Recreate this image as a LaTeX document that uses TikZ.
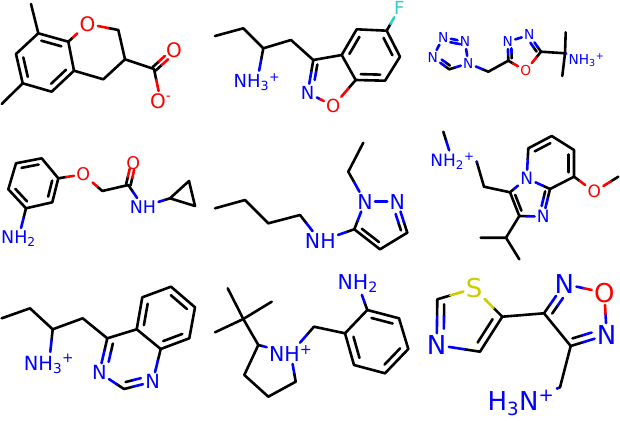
\documentclass[tikz,border=0pt]{standalone}
\usepackage{fontspec}
\setmainfont{DejaVu Sans}
\usetikzlibrary{calc}
\definecolor{atomN}{RGB}{0,0,255}
\definecolor{atomO}{RGB}{255,0,0}
\definecolor{atomF}{RGB}{51,204,204}
\definecolor{atomS}{RGB}{204,204,0}
\tikzset{
	bond/.style		= {line width=2.6pt, line cap=round, line join=round},
	atom/.style		= {inner sep=2.2pt},
	nitro/.style	= {atom, text=atomN},
	oxy/.style		= {atom, text=atomO},
	fluor/.style	= {atom, text=atomF},
	sulf/.style		= {atom, text=atomS},
	molsize/.style	= {every node/.append style={font=\fontsize{#1}{#1}\selectfont}}
}
% bond in two colours, split half way along its visible part
\newcommand{\hbond}[4][black]{
	\path (#2) -- coordinate[midway] (mid) (#3);
	\draw [bond, #1] (#2) -- (mid);
	\draw [bond, #4] (mid) -- (#3);
}
% inner line of a ring double bond
\newcommand{\inbond}[3]{
	\coordinate (pa) at ($(#1)!.24!(#3)$);
	\coordinate (pb) at ($(#2)!.24!(#3)$);
	\draw [bond] ($(pa)!.06!(pb)$) -- ($(pb)!.06!(pa)$);
}
% same, two colours; #5 and #6 cut the ends
\newcommand{\ihbond}[7][black]{
	\coordinate (pa) at ($(#2)!.24!(#5)$);
	\coordinate (pb) at ($(#3)!.24!(#5)$);
	\coordinate (qa) at ($(pa)!#6!(pb)$);
	\coordinate (qb) at ($(pb)!#7!(pa)$);
	\coordinate (mid) at ($(qa)!.5!(qb)$);
	\draw [bond, #1] (qa) -- (mid);
	\draw [bond, #4] (mid) -- (qb);
}
% two lines side by side, for C=O
\newcommand{\cobond}[4]{
	\foreach \ang/\gna in {90/-90,-90/90} {
		\coordinate (pa) at ($(#1)!2.3pt!\ang:(#2)$);
		\coordinate (pb) at ($(#2)!2.3pt!\gna:(#1)$);
		\coordinate (qb) at ($(pa)!#4!(pb)$);
		\coordinate (mid) at ($(pa)!.5!(qb)$);
		\draw [bond] (pa) -- (mid);
		\draw [bond, #3] (mid) -- (qb);
	}
}
\begin{document}
\begin{tikzpicture}[x=1pt, y=-1pt]
	\useasboundingbox (0,0) rectangle (620,420);

	\begin{scope}[molsize=20]
		\coordinate (a1) at (31,4);
		\coordinate (a2) at (38.3,33.3);
		\coordinate (a3) at (68.3,41.7);
		\node [oxy] (a4) at (87.6,24) {O};
		\coordinate (a5) at (118.3,30);
		\coordinate (a6) at (125,59.3);
		\coordinate (a7) at (103.3,79.3);
		\coordinate (a8) at (74,70.7);
		\coordinate (a9) at (51.7,91.7);
		\coordinate (a10) at (22.7,83.3);
		\coordinate (a11) at (1.7,104);
		\coordinate (a12) at (16,54);
		\coordinate (a13) at (154,69);
		\node [oxy] (a14) at (174,50.7) {O};
		\node [oxy] (a15) at (160.7,101) {O\textsuperscript{-}};
		\coordinate (ra) at (45.2,62.5);
		\draw [bond] (a1) -- (a2) -- (a3);
		\draw [bond] (a2) -- (a12) -- (a10) -- (a11);
		\draw [bond] (a10) -- (a9) -- (a8) -- (a3);
		\draw [bond] (a8) -- (a7) -- (a6) -- (a5);
		\draw [bond] (a6) -- (a13);
		\hbond{a3}{a4}{atomO}
		\hbond{a5}{a4}{atomO}
		\hbond{a13}{a15}{atomO}
		\cobond{a13}{a14}{atomO}{.62}
		\inbond{a2}{a3}{ra}
		\inbond{a8}{a9}{ra}
		\inbond{a10}{a12}{ra}
	\end{scope}

	\begin{scope}[molsize=18]
		\coordinate (b1) at (215,36);
		\coordinate (b2) at (243.3,28.3);
		\coordinate (b3) at (263.3,48.3);
		\coordinate (b4) at (291,40);
		\coordinate (b5) at (313.3,60);
		\coordinate (b6) at (341.7,55);
		\coordinate (b7) at (356.7,29.3);
		\coordinate (b8) at (386.7,30.7);
		\node [fluor] (b9) at (399.3,8.3) {F};
		\coordinate (b10) at (400,56.7);
		\coordinate (b11) at (385,80.7);
		\coordinate (b12) at (355.7,80);
		\node [oxy] (b13) at (333.3,106) {O};
		\node [nitro] (b14) at (307.7,92.7) {N};
		\node [nitro] (b15) at (257,82) {NH\textsubscript{3}\textsuperscript{+}};
		\coordinate (rb) at (370.9,55.5);
		\coordinate (rbb) at (330,78.7);
		\draw [bond] (b1) -- (b2) -- (b3) -- (b4) -- (b5) -- (b6) -- (b7) -- (b8) -- (b10) -- (b11) -- (b12) -- (b6);
		\hbond{b3}{b15}{atomN}
		\hbond{b8}{b9}{atomF}
		\hbond{b12}{b13}{atomO}
		\hbond[atomN]{b14}{b13}{atomO}
		\hbond{b5}{b14}{atomN}
		\ihbond{b5}{b14}{atomN}{rbb}{0}{.38}
		\inbond{b6}{b7}{rb}
		\inbond{b8}{b10}{rb}
		\inbond{b11}{b12}{rb}
	\end{scope}

	\begin{scope}[molsize=13.7, every node/.append style={inner sep=1pt}]
		\node [nitro] (c1) at (468.3,63.3) {N};
		\coordinate (c2) at (449.3,69.3);
		\node [nitro] (c3) at (432.7,57.3) {N};
		\node [nitro] (c4) at (443.3,37.3) {N};
		\node [nitro] (c5) at (465,41.7) {N};
		\coordinate (c6) at (488.3,71.7);
		\coordinate (c7) at (508.3,60.7);
		\node [nitro] (c8) at (507.7,41.7) {N};
		\node [nitro] (c9) at (529.3,35) {N};
		\coordinate (c10) at (541,51.7);
		\node [oxy] (c11) at (525.7,70.7) {O};
		\coordinate (c12) at (565,53.3);
		\coordinate (c13) at (565.7,32.3);
		\coordinate (c14) at (562.3,76);
		\node [nitro] (c15) at (586.5,60) {NH\textsubscript{3}\textsuperscript{+}};
		\coordinate (rc) at (451.7,53.5);
		\coordinate (rcc) at (522.6,51.3);
		\draw [bond] (c6) -- (c7);
		\draw [bond] (c10) -- (c12) -- (c13);
		\draw [bond] (c12) -- (c14);
		\hbond{c6}{c1}{atomN}
		\hbond{c2}{c1}{atomN}
		\hbond{c2}{c3}{atomN}
		\ihbond{c2}{c3}{atomN}{rc}{0}{.35}
		\draw [bond, atomN] (c3) -- (c4);
		\draw [bond, atomN] (c4) -- (c5);
		\ihbond[atomN]{c4}{c5}{atomN}{rc}{.3}{.1}
		\draw [bond, atomN] (c5) -- (c1);
		\hbond{c7}{c8}{atomN}
		\ihbond{c7}{c8}{atomN}{rcc}{0}{.3}
		\draw [bond, atomN] (c8) -- (c9);
		\hbond{c10}{c9}{atomN}
		\ihbond{c10}{c9}{atomN}{rcc}{0}{.3}
		\hbond{c7}{c11}{atomO}
		\hbond{c10}{c11}{atomO}
		\hbond{c12}{c15}{atomN}
	\end{scope}

	\begin{scope}[molsize=17.5]
		\coordinate (d1) at (58.3,178.3);
		\coordinate (d2) at (41.7,158.3);
		\coordinate (d3) at (16,163.3);
		\coordinate (d4) at (8.3,189.3);
		\coordinate (d5) at (26,208.3);
		\coordinate (d6) at (52.3,202.3);
		\node [nitro] (d7) at (18.5,238.3) {NH\textsubscript{2}};
		\node [oxy] (d8) at (83.3,174.3) {O};
		\coordinate (d9) at (102.3,191);
		\coordinate (d10) at (128.3,185);
		\node [oxy] (d11) at (133.3,163.3) {O};
		\node [nitro] (d12) at (143,206.7) {NH};
		\coordinate (d13) at (170,198.3);
		\coordinate (d14) at (189,181);
		\coordinate (d15) at (195,206);
		\coordinate (rd) at (33.8,183.3);
		\draw [bond] (d1) -- (d2) -- (d3) -- (d4) -- (d5) -- (d6) -- (d1);
		\draw [bond] (d9) -- (d10);
		\draw [bond] (d13) -- (d14) -- (d15) -- (d13);
		\hbond{d5}{d7}{atomN}
		\hbond{d1}{d8}{atomO}
		\hbond{d9}{d8}{atomO}
		\hbond{d10}{d12}{atomN}
		\hbond{d13}{d12}{atomN}
		\cobond{d10}{d11}{atomO}{.72}
		\inbond{d1}{d6}{rd}
		\inbond{d2}{d3}{rd}
		\inbond{d4}{d5}{rd}
	\end{scope}

	\begin{scope}[molsize=20.5]
		\coordinate (e1) at (215,208.3);
		\coordinate (e2) at (245,200);
		\coordinate (e3) at (268.3,223.3);
		\coordinate (e4) at (300,215);
		\node [nitro] (e5) at (320.3,241) {NH};
		\coordinate (e6) at (354.3,229.3);
		\node [nitro] (e7) at (365,201.7) {N};
		\node [nitro] (e8) at (397.3,201.7) {N};
		\coordinate (e9) at (407.3,232.7);
		\coordinate (e10) at (380,249.3);
		\coordinate (e11) at (348.3,171.7);
		\coordinate (e12) at (363.3,142.7);
		\coordinate (re) at (380.7,223.1);
		\draw [bond] (e1) -- (e2) -- (e3) -- (e4);
		\draw [bond] (e9) -- (e10) -- (e6);
		\draw [bond] (e12) -- (e11);
		\hbond{e4}{e5}{atomN}
		\hbond{e6}{e5}{atomN}
		\hbond{e6}{e7}{atomN}
		\hbond{e11}{e7}{atomN}
		\draw [bond, atomN] (e7) -- (e8);
		\hbond{e9}{e8}{atomN}
		\ihbond{e9}{e8}{atomN}{re}{0}{.3}
		\inbond{e6}{e10}{re}
	\end{scope}

	\begin{scope}[molsize=17]
		\coordinate (f1) at (443.3,131.7);
		\node [nitro] (f2) at (452.5,161) {NH\textsubscript{2}\textsuperscript{+}};
		\coordinate (f3) at (476.7,161.7);
		\coordinate (f4) at (484,186.7);
		\coordinate (f5) at (510,192.3);
		\node [nitro] (f6) at (526.7,178.3) {N};
		\coordinate (f7) at (528.3,148.3);
		\coordinate (f8) at (551.7,136);
		\coordinate (f9) at (574,150);
		\coordinate (f10) at (574,176.7);
		\coordinate (f11) at (550,189);
		\node [nitro] (f12) at (543.3,216.7) {N};
		\coordinate (f13) at (519.3,216);
		\node [oxy] (f14) at (594.3,191.7) {O};
		\coordinate (f15) at (618.3,176.7);
		\coordinate (f16) at (506,237.7);
		\coordinate (f17) at (480.7,237.7);
		\coordinate (f18) at (519.3,259.3);
		\coordinate (rf) at (550.7,163.4);
		\coordinate (rff) at (529.9,198.4);
		\draw [bond] (f3) -- (f4) -- (f5) -- (f13) -- (f16) -- (f17);
		\draw [bond] (f16) -- (f18);
		\draw [bond] (f7) -- (f8) -- (f9) -- (f10) -- (f11);
		\hbond{f1}{f2}{atomN}
		\hbond{f3}{f2}{atomN}
		\hbond{f5}{f6}{atomN}
		\hbond{f7}{f6}{atomN}
		\hbond{f11}{f6}{atomN}
		\hbond{f11}{f12}{atomN}
		\ihbond{f11}{f12}{atomN}{rff}{0}{.3}
		\hbond{f13}{f12}{atomN}
		\hbond{f10}{f14}{atomO}
		\hbond{f15}{f14}{atomO}
		\inbond{f5}{f13}{rff}
		\inbond{f7}{f8}{rf}
		\inbond{f9}{f10}{rf}
	\end{scope}

	\begin{scope}[molsize=19.5]
		\coordinate (g1) at (1.7,318.3);
		\coordinate (g2) at (30,308.3);
		\coordinate (g3) at (52.7,329.3);
		\coordinate (g4) at (82.7,318.3);
		\coordinate (g5) at (107.3,338.3);
		\coordinate (g6) at (136.7,329.3);
		\coordinate (g7) at (142.3,297.3);
		\coordinate (g8) at (171,286.7);
		\coordinate (g9) at (195,307.3);
		\coordinate (g10) at (189.3,338.3);
		\coordinate (g11) at (160.7,349);
		\node [nitro] (g12) at (152.7,381.7) {N};
		\coordinate (g13) at (124,389);
		\node [nitro] (g14) at (99.3,372.7) {N};
		\node [nitro] (g15) at (49,364) {NH\textsubscript{3}\textsuperscript{+}};
		\coordinate (rg) at (165.7,318.1);
		\coordinate (rgg) at (130.5,360);
		\draw [bond] (g1) -- (g2) -- (g3) -- (g4) -- (g5) -- (g6) -- (g7) -- (g8) -- (g9) -- (g10) -- (g11) -- (g6);
		\hbond{g3}{g15}{atomN}
		\hbond{g5}{g14}{atomN}
		\ihbond{g5}{g14}{atomN}{rgg}{0}{.3}
		\hbond{g11}{g12}{atomN}
		\hbond{g13}{g12}{atomN}
		\ihbond{g13}{g12}{atomN}{rgg}{0}{.3}
		\hbond{g13}{g14}{atomN}
		\inbond{g6}{g7}{rg}
		\inbond{g8}{g9}{rg}
		\inbond{g10}{g11}{rg}
	\end{scope}

	\begin{scope}[molsize=20.5]
		\node [nitro] (h1) at (357.7,283.3) {NH\textsubscript{2}};
		\coordinate (h2) at (367.3,310);
		\coordinate (h3) at (399,318.3);
		\coordinate (h4) at (408.3,349);
		\coordinate (h5) at (385,373.3);
		\coordinate (h6) at (354,365);
		\coordinate (h7) at (345,333.3);
		\coordinate (h8) at (314,326.7);
		\node [nitro] (h9) at (290.7,353.3) {NH\textsuperscript{+}};
		\coordinate (h10) at (258.3,345);
		\coordinate (h11) at (244.3,375);
		\coordinate (h12) at (268.3,396.7);
		\coordinate (h13) at (295.7,381.7);
		\coordinate (h14) at (243.3,319);
		\coordinate (h15) at (227.7,288.3);
		\coordinate (h16) at (271.7,301.7);
		\coordinate (h17) at (215,332.3);
		\coordinate (rh) at (378.6,341.6);
		\draw [bond] (h2) -- (h3) -- (h4) -- (h5) -- (h6) -- (h7) -- (h2);
		\draw [bond] (h7) -- (h8);
		\draw [bond] (h10) -- (h11) -- (h12) -- (h13);
		\draw [bond] (h10) -- (h14);
		\draw [bond] (h14) -- (h15);
		\draw [bond] (h14) -- (h16);
		\draw [bond] (h14) -- (h17);
		\hbond{h2}{h1}{atomN}
		\hbond{h8}{h9}{atomN}
		\hbond{h10}{h9}{atomN}
		\hbond{h13}{h9}{atomN}
		\inbond{h2}{h3}{rh}
		\inbond{h4}{h5}{rh}
		\inbond{h6}{h7}{rh}
	\end{scope}

	\begin{scope}[molsize=26]
		\node [sulf] (i1) at (474,288.3) {S};
		\coordinate (i2) at (437.3,299.3);
		\node [nitro] (i3) at (436.7,345) {N};
		\coordinate (i4) at (480,351.7);
		\coordinate (i5) at (502.3,316.7);
		\coordinate (i6) at (544,313.3);
		\node [nitro] (i7) at (564.3,284) {N};
		\node [oxy] (i8) at (604.3,292.7) {O};
		\node [nitro] (i9) at (606.7,335) {N};
		\coordinate (i10) at (570.7,346);
		\coordinate (i11) at (560,387.3);
		\node [nitro] (i12) at (521,403.3) {H\textsubscript{3}N\textsuperscript{+}};
		\coordinate (ri) at (466,320.2);
		\coordinate (rii) at (578,314.4);
		\draw [bond] (i4) -- (i5) -- (i6) -- (i10) -- (i11);
		\hbond{i2}{i1}{atomS}
		\hbond{i5}{i1}{atomS}
		\hbond{i2}{i3}{atomN}
		\ihbond{i2}{i3}{atomN}{ri}{0}{.3}
		\hbond{i4}{i3}{atomN}
		\hbond{i6}{i7}{atomN}
		\ihbond{i6}{i7}{atomN}{rii}{0}{.3}
		\hbond[atomN]{i7}{i8}{atomO}
		\hbond[atomN]{i9}{i8}{atomO}
		\hbond{i10}{i9}{atomN}
		\ihbond{i10}{i9}{atomN}{rii}{0}{.3}
		\hbond{i11}{i12}{atomN}
		\inbond{i4}{i5}{ri}
	\end{scope}
\end{tikzpicture}
\end{document}
